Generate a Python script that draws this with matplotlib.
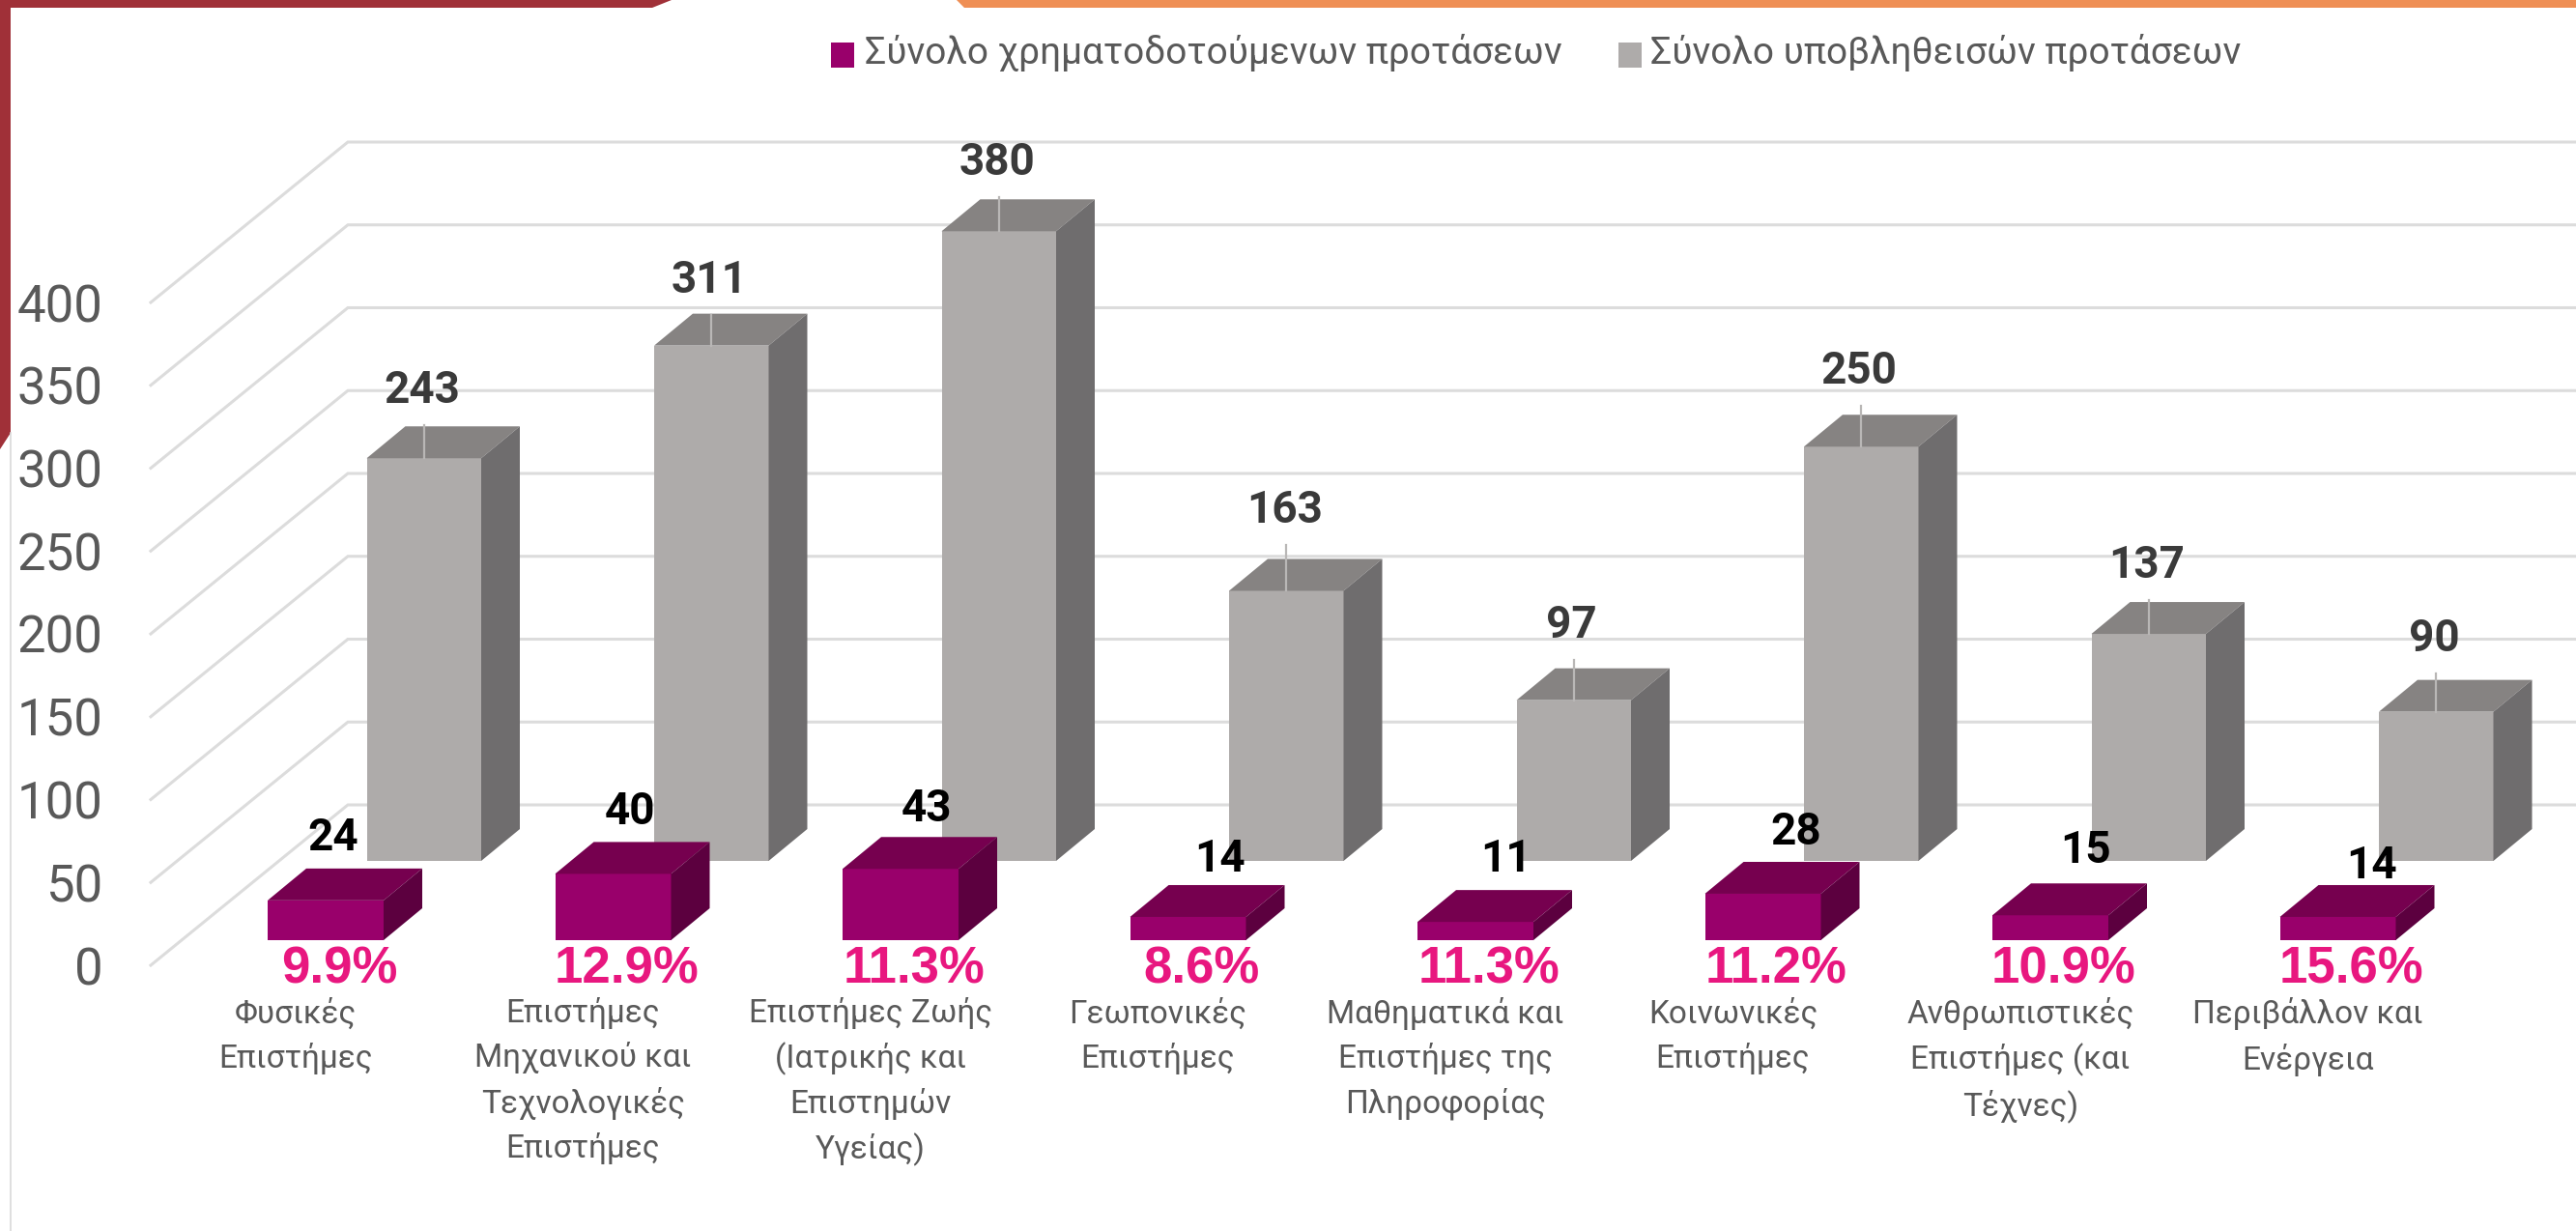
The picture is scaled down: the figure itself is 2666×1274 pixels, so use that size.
import matplotlib
matplotlib.use("Agg")
import matplotlib.pyplot as plt
from matplotlib.patches import Polygon

# values
categories = [
    "Φυσικές\nΕπιστήμες",
    "Επιστήμες\nΜηχανικού και\nΤεχνολογικές\nΕπιστήμες",
    "Επιστήμες Ζωής\n(Ιατρικής και\nΕπιστημών\nΥγείας)",
    "Γεωπονικές\nΕπιστήμες",
    "Μαθηματικά και\nΕπιστήμες της\nΠληροφορίας",
    "Κοινωνικές\nΕπιστήμες",
    "Ανθρωπιστικές\nΕπιστήμες (και\nΤέχνες)",
    "Περιβάλλον και\nΕνέργεια",
]
funded = [24, 40, 43, 14, 11, 28, 15, 14]
submitted = [243, 311, 380, 163, 97, 250, 137, 90]
percent = ["9.9%", "12.9%", "11.3%", "8.6%", "11.3%", "11.2%", "10.9%", "15.6%"]
y_ticks = [0, 50, 100, 150, 200, 250, 300, 350, 400]
legend_names = ["Σύνολο χρηματοδοτούμενων προτάσεων", "Σύνολο υποβληθεισών προτάσεων"]

W, H = 2666, 1274
PX_X = 297.5   # pixels per category
PX_Y = 1.715   # pixels per value unit
AX_L, AX_B = 130, 999
X0 = 306       # pixel of the first category label
# label nudges in pixels, the labels were dragged by hand in the original
FUND_DX = [8, 18, 27, 33, 32, 34, 36, 35]
FUND_DY = [65, 64, 62, 60, 65, 64, 67, 53]
SUB_DY = [70, 68, 71, 83, 78, 78, 71, 76]

fig = plt.figure(figsize=(W / 100, H / 100), dpi=100)
ax = fig.add_axes([AX_L / W, (H - AX_B) / H, 1 - AX_L / W, AX_B / H])
ax.set_xlim((AX_L - X0) / PX_X, (W - X0) / PX_X)
ax.set_ylim(0, AX_B / PX_Y)
for s in ax.spines.values():
    s.set_visible(False)


def xu(px):
    return px / PX_X


def yu(px):
    return px / PX_Y


def box(x_left, width, base, value, front, top, side, z):
    dx, dy = xu(40), yu(33)
    x_right = x_left + width
    ax.add_patch(Polygon([(x_left, base), (x_right, base), (x_right, base + value), (x_left, base + value)],
                         fc=front, ec="none", zorder=z, clip_on=False))
    ax.add_patch(Polygon([(x_left, base + value), (x_right, base + value),
                          (x_right + dx, base + value + dy), (x_left + dx, base + value + dy)],
                         fc=top, ec="none", zorder=z, clip_on=False))
    ax.add_patch(Polygon([(x_right, base), (x_right + dx, base + dy),
                          (x_right + dx, base + value + dy), (x_right, base + value)],
                         fc=side, ec="none", zorder=z, clip_on=False))


# floor and wall gridlines
wall_dx, wall_dy = xu(204), yu(166)
wall_left = (156 - X0) / PX_X
for t in y_ticks:
    ax.plot([wall_left, wall_left + wall_dx, (2666 - X0) / PX_X], [t, t + wall_dy, t + wall_dy],
            color="#DCDCDC", lw=2.2, zorder=1, clip_on=False, solid_joinstyle="miter")

font = "Roboto"
for i, v in enumerate(submitted):
    left = i + xu(379.5 - X0)
    width = xu(118.5)
    base = yu(108)
    box(left, width, base, v, "#AEABAA", "#868382", "#6F6D6E", 3)
    xc = left + width / 2
    ax.plot([xc, xc], [base + v, base + v + yu(SUB_DY[i] - 36)], color="#B9B7B6", lw=1.6, zorder=4)
    ax.text(xc - xu(2), base + v + yu(SUB_DY[i]), str(v), ha="center", va="center", fontsize=33,
            fontweight="bold", color="#3A3A3A", family=font, zorder=5)

for i, v in enumerate(funded):
    left = i + xu(277 - X0)
    width = xu(120)
    base = yu(26)
    box(left, width, base, v, "#99006B", "#76004F", "#5C003F", 6)
    xc = left + width / 2 + xu(FUND_DX[i])
    ax.text(xc, base + v + yu(FUND_DY[i]), str(v), ha="center", va="center", fontsize=33,
            fontweight="bold", color="black", family=font, zorder=7)
    ax.text(left + width / 2 + xu(14), yu(-5), percent[i], ha="center", va="center", fontsize=38,
            fontweight="bold", color="#E8177F", family="Liberation Sans", zorder=8)

ax.set_yticks(y_ticks)
ax.set_xticks(range(len(categories)))
ax.set_xticklabels(categories, fontsize=24, color="#595959", family=font, linespacing=1.5)
ax.set_yticklabels([str(t) for t in y_ticks], fontsize=38, color="#595959", family=font)
ax.tick_params(axis="both", length=0)
ax.tick_params(axis="x", pad=24)
ax.tick_params(axis="y", pad=17)

# legend
leg = [("#99006B", 860, 895), ("#AEABAA", 1675, 1708)]
for (c, sx, tx), name in zip(leg, legend_names):
    fig.patches.append(plt.Rectangle((sx / W, 1 - 70 / H), 24 / W, 26 / H, transform=fig.transFigure, fc=c, ec="none"))
    fig.text(tx / W, 1 - 55 / H, name, fontsize=27.9, color="#595959", family=font, ha="left", va="center")

# slide frame behind the chart
frame = [
    ([(0, 0), (695, 0), (675, 8), (11, 8), (11, 448), (0, 465)], "#A03038"),
    ([(990, 0), (2666, 0), (2666, 8), (998, 8)], "#EF8F55"),
]
for pts, c in frame:
    fig.patches.append(Polygon([(x / W, 1 - y / H) for x, y in pts], transform=fig.transFigure, fc=c, ec="none"))
fig.add_artist(plt.Line2D([11 / W, 11 / W], [0, 1 - 448 / H], color="#D9D9D9", lw=1.2))

fig.savefig("out.png", dpi=100)
